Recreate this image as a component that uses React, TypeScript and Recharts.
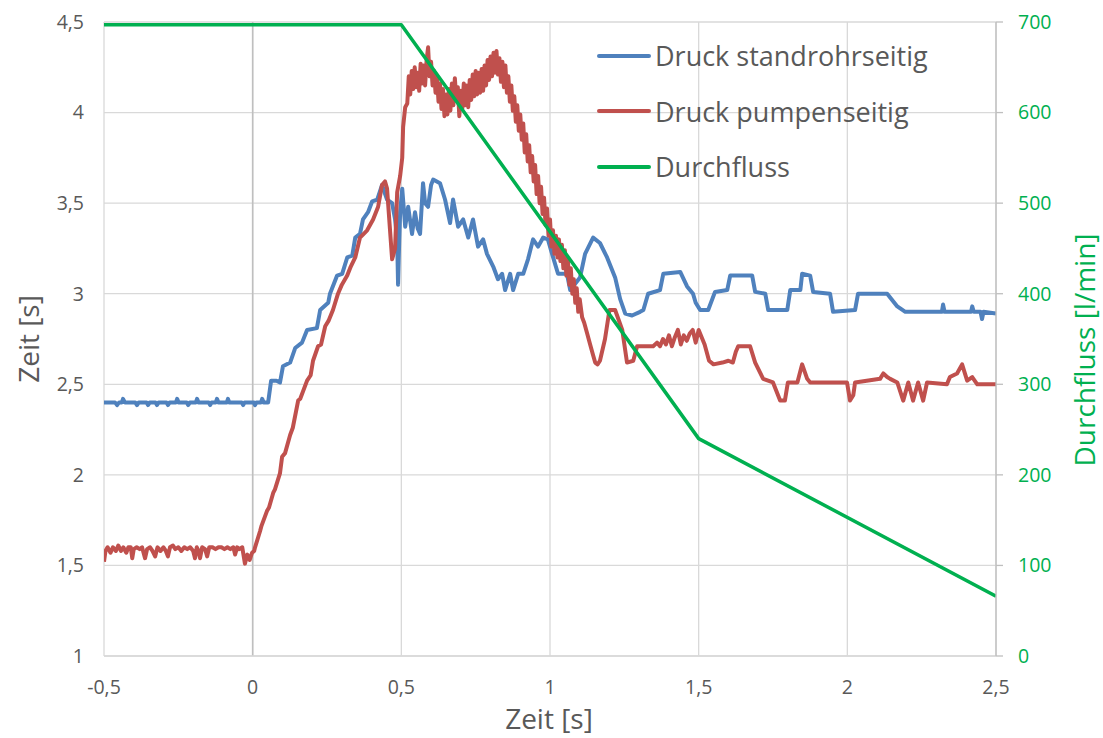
import React from 'react';
import {
  LineChart,
  Line,
  XAxis,
  YAxis,
  CartesianGrid,
  Legend,
  ReferenceLine,
} from 'recharts';

// Zeitachse und Achsenbeschriftungen
const timeTicks = [-0.5, 0, 0.5, 1, 1.5, 2, 2.5];
const pressureTicks = [1, 1.5, 2, 2.5, 3, 3.5, 4, 4.5];
const flowTicks = [0, 100, 200, 300, 400, 500, 600, 700];
const seriesNames = ['Druck standrohrseitig', 'Druck pumpenseitig', 'Durchfluss'];

// Druck standrohrseitig: [Zeit s, Wert]
const druckStandrohr: [number, number][] = [
  [-0.5, 2.4], [-0.463, 2.4], [-0.456, 2.385], [-0.449, 2.4], [-0.44, 2.4], [-0.436, 2.42], [-0.43, 2.4],
  [-0.395, 2.4], [-0.389, 2.385], [-0.383, 2.4], [-0.357, 2.4], [-0.352, 2.385], [-0.346, 2.4],
  [-0.327, 2.4], [-0.322, 2.385], [-0.316, 2.4], [-0.29, 2.4], [-0.285, 2.385], [-0.279, 2.4],
  [-0.258, 2.4], [-0.254, 2.42], [-0.249, 2.4], [-0.222, 2.4], [-0.217, 2.385], [-0.211, 2.4],
  [-0.191, 2.4], [-0.187, 2.42], [-0.182, 2.4], [-0.148, 2.4], [-0.143, 2.385], [-0.138, 2.4],
  [-0.124, 2.4], [-0.12, 2.42], [-0.115, 2.4], [-0.087, 2.4], [-0.083, 2.42], [-0.079, 2.4],
  [-0.037, 2.4], [-0.032, 2.385], [-0.027, 2.4], [0.004, 2.4], [0.008, 2.385], [0.013, 2.4],
  [0.028, 2.4], [0.032, 2.42], [0.037, 2.4], [0.052, 2.4],
  [0.062, 2.52], [0.08, 2.52], [0.092, 2.51], [0.102, 2.6], [0.126, 2.62], [0.143, 2.7],
  [0.166, 2.73], [0.183, 2.8], [0.216, 2.81], [0.227, 2.91], [0.254, 2.95], [0.26, 3.0],
  [0.284, 3.1], [0.301, 3.11], [0.318, 3.2], [0.335, 3.21], [0.345, 3.31], [0.361, 3.33],
  [0.371, 3.41], [0.388, 3.45], [0.402, 3.51], [0.419, 3.52], [0.435, 3.6], [0.452, 3.52],
  [0.469, 3.5], [0.479, 3.41], [0.486, 3.3], [0.489, 3.05], [0.493, 3.3], [0.496, 3.45],
  [0.503, 3.58], [0.513, 3.37], [0.523, 3.48], [0.536, 3.33], [0.546, 3.45], [0.555, 3.36],
  [0.563, 3.33], [0.573, 3.61], [0.58, 3.5], [0.59, 3.48], [0.6, 3.6], [0.607, 3.63],
  [0.63, 3.61], [0.647, 3.52], [0.664, 3.39], [0.674, 3.52], [0.691, 3.37], [0.708, 3.41],
  [0.725, 3.31], [0.741, 3.41], [0.758, 3.26], [0.775, 3.3], [0.788, 3.22], [0.809, 3.15],
  [0.825, 3.08], [0.839, 3.11], [0.849, 3.02], [0.866, 3.11], [0.876, 3.02], [0.893, 3.11],
  [0.91, 3.11], [0.926, 3.19], [0.943, 3.3], [0.96, 3.26], [0.977, 3.31], [0.993, 3.3],
  [1.007, 3.22], [1.027, 3.11], [1.057, 3.11], [1.068, 3.02], [1.101, 3.09], [1.118, 3.22],
  [1.145, 3.31], [1.168, 3.28], [1.192, 3.2], [1.219, 3.09], [1.236, 2.97], [1.253, 2.89],
  [1.276, 2.88], [1.303, 2.9], [1.314, 2.91], [1.33, 3.0], [1.37, 3.02], [1.381, 3.11],
  [1.438, 3.12], [1.461, 3.04], [1.481, 3.0], [1.49, 2.95], [1.505, 2.91], [1.532, 2.91],
  [1.555, 3.01], [1.596, 3.02], [1.606, 3.1], [1.68, 3.1], [1.69, 3.01], [1.724, 3.0],
  [1.734, 2.91], [1.798, 2.91], [1.808, 3.02], [1.842, 3.02], [1.848, 3.11], [1.875, 3.1],
  [1.885, 3.01], [1.942, 3.0], [1.952, 2.9], [2.026, 2.91], [2.036, 3.0], [2.134, 3.0],
  [2.168, 2.93], [2.195, 2.9], [2.318, 2.9], [2.322, 2.94], [2.327, 2.9], [2.416, 2.9],
  [2.42, 2.93], [2.425, 2.9], [2.448, 2.9], [2.453, 2.86], [2.458, 2.9], [2.5, 2.89],
];

// Druck pumpenseitig: [Zeit s, Wert]
const druckPumpe: [number, number][] = [
  [-0.5, 1.52], [-0.495, 1.58], [-0.488, 1.6], [-0.478, 1.57], [-0.47, 1.6], [-0.46, 1.58],
  [-0.452, 1.61], [-0.443, 1.58], [-0.435, 1.6], [-0.425, 1.57], [-0.418, 1.6], [-0.41, 1.6],
  [-0.405, 1.54], [-0.4, 1.59], [-0.39, 1.6], [-0.38, 1.59], [-0.372, 1.6], [-0.362, 1.54],
  [-0.355, 1.59], [-0.345, 1.6], [-0.337, 1.58], [-0.328, 1.55], [-0.32, 1.6], [-0.31, 1.58],
  [-0.3, 1.6], [-0.292, 1.58], [-0.285, 1.55], [-0.278, 1.6], [-0.268, 1.61], [-0.26, 1.59],
  [-0.25, 1.6], [-0.24, 1.58], [-0.23, 1.6], [-0.22, 1.59], [-0.21, 1.6], [-0.2, 1.58],
  [-0.194, 1.54], [-0.188, 1.6], [-0.182, 1.58], [-0.177, 1.54], [-0.17, 1.6], [-0.16, 1.59],
  [-0.153, 1.55], [-0.146, 1.6], [-0.135, 1.6], [-0.125, 1.59], [-0.115, 1.6], [-0.105, 1.6],
  [-0.095, 1.59], [-0.085, 1.6], [-0.075, 1.59], [-0.065, 1.6], [-0.059, 1.56], [-0.052, 1.6],
  [-0.045, 1.59], [-0.035, 1.6], [-0.026, 1.51], [-0.018, 1.56], [-0.01, 1.53], [-0.002, 1.57],
  [0.005, 1.58], [0.008, 1.6], [0.025, 1.69], [0.03, 1.72], [0.048, 1.8], [0.055, 1.82],
  [0.069, 1.9], [0.075, 1.92], [0.092, 2.01], [0.099, 2.1], [0.109, 2.12], [0.126, 2.22],
  [0.135, 2.26], [0.153, 2.41], [0.16, 2.42], [0.183, 2.52], [0.195, 2.55], [0.203, 2.63],
  [0.22, 2.71], [0.23, 2.72], [0.244, 2.82], [0.255, 2.85], [0.27, 2.91], [0.287, 3.0],
  [0.3, 3.05], [0.318, 3.1], [0.33, 3.15], [0.345, 3.2], [0.361, 3.31], [0.385, 3.35],
  [0.405, 3.41], [0.422, 3.48], [0.435, 3.6], [0.445, 3.62], [0.452, 3.58], [0.469, 3.19],
  [0.479, 3.25], [0.486, 3.56], [0.496, 3.65], [0.503, 3.75], [0.506, 3.92], [0.513, 4.03],
  [0.52, 4.05], [0.525, 4.2], [0.53, 4.1], [0.535, 4.23], [0.54, 4.13], [0.545, 4.25],
  [0.55, 4.14], [0.555, 4.22], [0.56, 4.12], [0.565, 4.27], [0.57, 4.16], [0.575, 4.26],
  [0.58, 4.15], [0.585, 4.29], [0.59, 4.36], [0.595, 4.2], [0.6, 4.28], [0.605, 4.15],
  [0.61, 4.23], [0.615, 4.11], [0.62, 4.2], [0.625, 4.06], [0.63, 4.16], [0.635, 4.02],
  [0.64, 4.13], [0.645, 3.98], [0.65, 4.1], [0.655, 3.99], [0.66, 4.13], [0.665, 4.01],
  [0.67, 4.16], [0.675, 4.04], [0.68, 4.19], [0.685, 4.07], [0.69, 4.14], [0.695, 3.98],
  [0.7, 4.12], [0.705, 4.02], [0.71, 4.16], [0.715, 4.04], [0.72, 4.15], [0.725, 4.03],
  [0.73, 4.18], [0.735, 4.07], [0.74, 4.21], [0.745, 4.09], [0.75, 4.23], [0.755, 4.1],
  [0.76, 4.22], [0.765, 4.11], [0.77, 4.24], [0.775, 4.12], [0.78, 4.26], [0.785, 4.15],
  [0.79, 4.29], [0.795, 4.18], [0.8, 4.31], [0.805, 4.2], [0.81, 4.33], [0.815, 4.22],
  [0.82, 4.34], [0.825, 4.21], [0.83, 4.3], [0.835, 4.17], [0.84, 4.28], [0.845, 4.14],
  [0.85, 4.26], [0.855, 4.11], [0.86, 4.2], [0.865, 4.06], [0.87, 4.15], [0.875, 4.01],
  [0.88, 4.09], [0.885, 3.95], [0.89, 4.04], [0.895, 3.9], [0.9, 3.99], [0.905, 3.85],
  [0.91, 3.94], [0.915, 3.78], [0.92, 3.88], [0.925, 3.73], [0.93, 3.82], [0.935, 3.67],
  [0.94, 3.76], [0.945, 3.62], [0.95, 3.71], [0.955, 3.55], [0.96, 3.65], [0.965, 3.5],
  [0.97, 3.59], [0.975, 3.44], [0.98, 3.53], [0.985, 3.38], [0.99, 3.47], [0.995, 3.32],
  [1.0, 3.41], [1.005, 3.26], [1.01, 3.35], [1.015, 3.22], [1.02, 3.32], [1.025, 3.2],
  [1.03, 3.3], [1.035, 3.18], [1.04, 3.27], [1.045, 3.14], [1.05, 3.24], [1.055, 3.1],
  [1.06, 3.19], [1.065, 3.05], [1.07, 3.14], [1.075, 3.0], [1.08, 3.08], [1.085, 2.95],
  [1.09, 3.03], [1.095, 2.9], [1.1, 2.97], [1.108, 2.87], [1.115, 2.84], [1.125, 2.78],
  [1.135, 2.72], [1.145, 2.66], [1.152, 2.62], [1.16, 2.61], [1.168, 2.63], [1.185, 2.75],
  [1.2, 2.91], [1.219, 2.91], [1.243, 2.8], [1.259, 2.62], [1.28, 2.63], [1.293, 2.71],
  [1.33, 2.71], [1.347, 2.71], [1.36, 2.73], [1.37, 2.71], [1.38, 2.75], [1.39, 2.72],
  [1.4, 2.77], [1.41, 2.71], [1.42, 2.76], [1.43, 2.8], [1.44, 2.72], [1.45, 2.77],
  [1.46, 2.74], [1.47, 2.78], [1.48, 2.8], [1.49, 2.73], [1.5, 2.8], [1.52, 2.72],
  [1.535, 2.63], [1.55, 2.61], [1.58, 2.62], [1.6, 2.63], [1.615, 2.62], [1.625, 2.68],
  [1.633, 2.71], [1.673, 2.71], [1.69, 2.62], [1.717, 2.53], [1.75, 2.51], [1.774, 2.41],
  [1.79, 2.41], [1.8, 2.51], [1.832, 2.51], [1.848, 2.61], [1.865, 2.53], [1.875, 2.51],
  [1.999, 2.51], [2.009, 2.41], [2.02, 2.44], [2.026, 2.51], [2.11, 2.53], [2.121, 2.56],
  [2.134, 2.54], [2.144, 2.53], [2.168, 2.51], [2.188, 2.41], [2.205, 2.51], [2.221, 2.41],
  [2.238, 2.51], [2.255, 2.41], [2.268, 2.51], [2.335, 2.5], [2.345, 2.54], [2.369, 2.56],
  [2.386, 2.61], [2.403, 2.52], [2.42, 2.54], [2.437, 2.5], [2.5, 2.5],
];

// Durchfluss in l/min: [Zeit s, Wert]
const durchfluss: [number, number][] = [
  [-0.5, 697], [0.5, 697], [1.5, 240], [2.5, 66],
];

const toRows = (pts: [number, number][]) => pts.map(([t, v]) => ({ t, v }));

const BLUE = '#4F81BD';
const RED = '#C0504D';
const GREEN = '#00B050';
const TEXT = '#595959';
const GRID = '#D9D9D9';
const FONT = '"Open Sans", sans-serif';

const fmt = (v: number) => String(v).replace('.', ',');

const renderLegend = (props: any) => {
  const payload: any[] = [...(props.payload || [])].sort(
    (a, b) => seriesNames.indexOf(a.value) - seriesNames.indexOf(b.value),
  );
  return (
    <div style={{ fontFamily: FONT }}>
      {payload.map((entry: any) => (
        <div
          key={entry.value}
          style={{ display: 'flex', alignItems: 'center', height: 55.5 }}
        >
          <svg width={54} height={6} style={{ display: 'block' }}>
            <line x1={2} y1={3} x2={52} y2={3} stroke={entry.color} strokeWidth={4} strokeLinecap="round" />
          </svg>
          <span style={{ marginLeft: 4, fontSize: 27, color: TEXT, lineHeight: 1, whiteSpace: 'nowrap' }}>
            {entry.value}
          </span>
        </div>
      ))}
    </div>
  );
};

const LeftTitle = (props: any) => {
  const vb = props.viewBox || {};
  const cx = 28;
  const cy = (vb.y ?? 22) + (vb.height ?? 634) / 2;
  return (
    <text x={cx} y={cy} transform={`rotate(-90, ${cx}, ${cy})`} textAnchor="middle" dominantBaseline="central"
      fill={TEXT} fontSize={28} fontFamily={FONT}>
      Zeit [s]
    </text>
  );
};

const RightTitle = () => {
  const cx = 1084;
  const cy = 350;
  return (
    <text x={cx} y={cy} transform={`rotate(-90, ${cx}, ${cy})`} textAnchor="middle" dominantBaseline="central"
      fill={GREEN} fontSize={28} fontFamily={FONT}>
      Durchfluss [l/min]
    </text>
  );
};

const BottomTitle = () => (
  <text x={549} y={718} textAnchor="middle" dominantBaseline="central" fill={TEXT} fontSize={28} fontFamily={FONT}>
    Zeit [s]
  </text>
);

export default function App() {
  return (
    <div style={{ position: 'absolute', left: 0, top: 0, width: 1103, height: 738, background: '#fff' }}>
      <LineChart width={1103} height={738} margin={{ top: 22, right: 0, bottom: 0, left: 0 }}>
        <CartesianGrid stroke={GRID} strokeWidth={1.3} yAxisId="left" />
        <XAxis
          type="number"
          dataKey="t"
          domain={[-0.5, 2.5]}
          ticks={timeTicks}
          tickFormatter={fmt}
          allowDataOverflow
          height={82}
          axisLine={{ stroke: GRID, strokeWidth: 1.3 }}
          tickLine={false}
          tickSize={0}
          tickMargin={24}
          tick={{ fill: TEXT, fontSize: 19.5, fontFamily: FONT }}
          label={<BottomTitle />}
        />
        <YAxis
          yAxisId="left"
          orientation="left"
          type="number"
          domain={[1, 4.5]}
          ticks={pressureTicks}
          tickFormatter={fmt}
          allowDataOverflow
          width={104}
          axisLine={false}
          tickLine={false}
          tickSize={0}
          tickMargin={20}
          tick={{ fill: TEXT, fontSize: 19.5, fontFamily: FONT }}
          label={<LeftTitle />}
        />
        <YAxis
          yAxisId="right"
          orientation="right"
          type="number"
          domain={[0, 700]}
          ticks={flowTicks}
          allowDataOverflow
          width={107}
          axisLine={{ stroke: '#BFBFBF', strokeWidth: 1.3 }}
          tickLine={{ stroke: '#BFBFBF', strokeWidth: 1.3 }}
          tickSize={7}
          tickMargin={15}
          tick={{ fill: GREEN, fontSize: 19.5, fontFamily: FONT, textAnchor: 'start' }}
          label={<RightTitle />}
        />
        <ReferenceLine x={0} yAxisId="left" stroke="#BFBFBF" strokeWidth={1.6} />
        <Legend
          layout="vertical"
          align="center"
          verticalAlign="middle"
          content={renderLegend}
          wrapperStyle={{ left: 597, top: 28, width: 360, height: 170 }}
        />
        <Line
          yAxisId="left"
          data={toRows(druckStandrohr)}
          dataKey="v"
          name="Druck standrohrseitig"
          type="linear"
          stroke={BLUE}
          strokeWidth={4}
          strokeLinejoin="round"
          dot={false}
          activeDot={false}
          isAnimationActive={false}
        />
        <Line
          yAxisId="left"
          data={toRows(druckPumpe)}
          dataKey="v"
          name="Druck pumpenseitig"
          type="linear"
          stroke={RED}
          strokeWidth={4}
          strokeLinejoin="round"
          dot={false}
          activeDot={false}
          isAnimationActive={false}
        />
        <Line
          yAxisId="right"
          data={toRows(durchfluss)}
          dataKey="v"
          name="Durchfluss"
          type="linear"
          stroke={GREEN}
          strokeWidth={3.5}
          strokeLinejoin="round"
          dot={false}
          activeDot={false}
          isAnimationActive={false}
        />
      </LineChart>
    </div>
  );
}
